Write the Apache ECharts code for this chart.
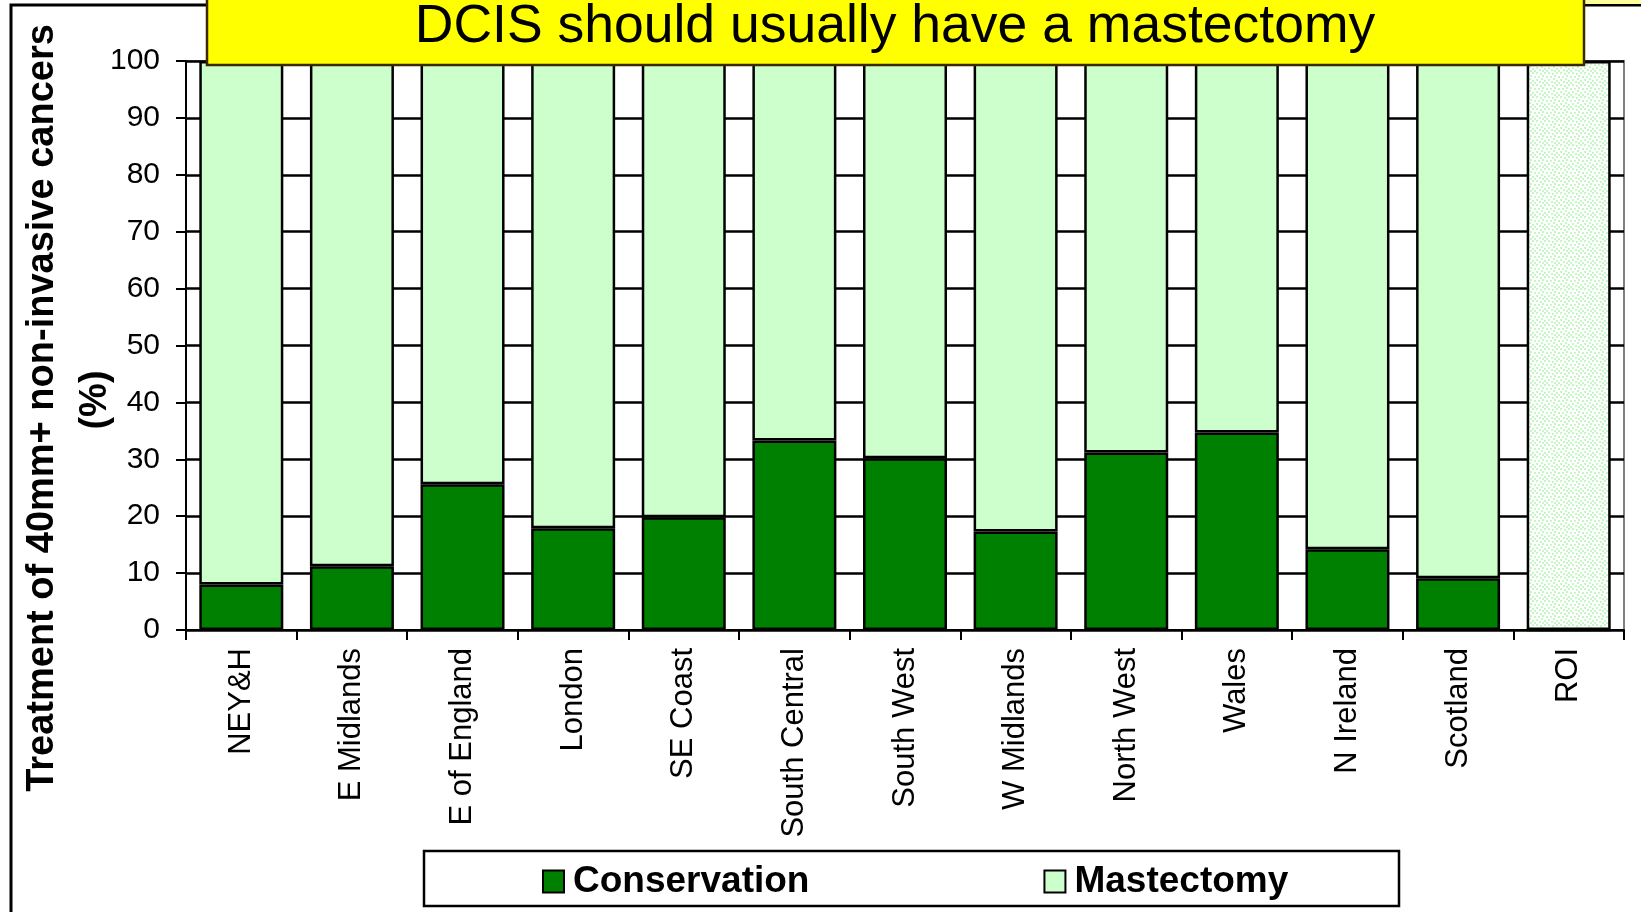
<!DOCTYPE html>
<html>
<head>
<meta charset="utf-8">
<script src="https://cdn.jsdelivr.net/npm/echarts@6/dist/echarts.min.js"></script>
<style>
  html, body { margin: 0; padding: 0; background: #fff; }
  #chart { width: 1641px; height: 912px; }
</style>
</head>
<body>
<div id="chart"></div>
<script>
// regions along the x axis
const regions = ['NEY&H', 'E Midlands', 'E of England', 'London', 'SE Coast', 'South Central',
  'South West', 'W Midlands', 'North West', 'Wales', 'N Ireland', 'Scotland', 'ROI'];
// % of 40mm+ non-invasive cancers
const conservation = [8.0, 11.2, 25.6, 17.9, 19.8, 33.3, 30.2, 17.3, 31.2, 34.7, 14.2, 9.1, 0];
const mastectomy = [92.0, 88.8, 74.4, 82.1, 80.2, 66.7, 69.8, 82.7, 68.8, 65.3, 85.8, 90.9, 100];
// regions drawn with the dotted fill
const dottedRegions = ['ROI'];
const yTicks = { min: 0, max: 100, step: 10 };

const FONT = '"Liberation Sans", Arial, sans-serif';

// dotted fill like the original ROI bar
function makeDots() {
  const c = document.createElement('canvas');
  c.width = 12; c.height = 12;
  const g = c.getContext('2d');
  g.fillStyle = '#ffffff';
  g.fillRect(0, 0, 12, 12);
  g.fillStyle = '#c4f7c4';
  const pts = [[0, 0], [4, 1], [8, 0], [2, 4], [6, 3], [10, 4], [0, 7], [5, 6], [8, 8], [3, 9], [10, 10], [6, 10]];
  pts.forEach(p => g.fillRect(p[0], p[1], 2, 2));
  return c;
}
const dots = makeDots();

const myChart = echarts.init(document.getElementById('chart'));

const options = {
  backgroundColor: '#ffffff',
  animation: false,
  textStyle: { fontFamily: FONT, color: '#000' },
  grid: {
    left: 186, top: 61, right: 17, bottom: 282,
    show: true, borderColor: '#808080', borderWidth: 2, backgroundColor: 'transparent'
  },
  legend: {
    data: ['Conservation', 'Mastectomy'],
    left: 537, top: 858,
    icon: 'rect',
    itemWidth: 21, itemHeight: 22,
    itemGap: 234,
    textStyle: { fontSize: 37, fontWeight: 'bold', fontFamily: FONT, color: '#000', padding: [0, 0, 0, 4] }
  },
  xAxis: {
    type: 'category',
    data: regions,
    axisLine: { lineStyle: { color: '#000', width: 2 } },
    axisTick: { show: true, length: 10, lineStyle: { color: '#000', width: 2 } },
    axisLabel: { rotate: 90, fontSize: 31, color: '#000', margin: 18, interval: 0 }
  },
  yAxis: {
    type: 'value',
    min: yTicks.min, max: yTicks.max, interval: yTicks.step,
    axisLine: { show: true, lineStyle: { color: '#000', width: 2 } },
    axisTick: { show: true, length: 10, lineStyle: { color: '#000', width: 2 } },
    axisLabel: { fontSize: 30, color: '#000', margin: 26 },
    splitLine: { show: true, lineStyle: { color: '#000', width: 2.5 } }
  },
  series: [
    {
      name: 'Conservation',
      type: 'bar',
      stack: 'total',
      barWidth: 84,
      data: conservation,
      itemStyle: { color: '#008000', borderColor: '#000', borderWidth: 2.5 }
    },
    {
      name: 'Mastectomy',
      type: 'bar',
      stack: 'total',
      barWidth: 84,
      data: mastectomy.map((v, i) => dottedRegions.includes(regions[i])
        ? { value: v, itemStyle: { color: { image: dots, repeat: 'repeat' } } }
        : v),
      itemStyle: { color: '#ccffcc', borderColor: '#000', borderWidth: 2.5 }
    }
  ],
  graphic: [
    // outer frame
    { type: 'rect', shape: { x: 11, y: 5, width: 1700, height: 1000 },
      style: { fill: 'none', stroke: '#000', lineWidth: 3 }, z: 0 },
    { type: 'rect', shape: { x: 1585, y: 0, width: 56, height: 4 },
      style: { fill: '#ffff99' }, z: 0 },
    // title banner
    { type: 'rect', shape: { x: 207, y: -3, width: 1377, height: 68 },
      style: { fill: '#ffff00', stroke: '#3a2a00', lineWidth: 2.5 }, z: 100 },
    { type: 'text', x: 895, y: 27, z: 101,
      style: { text: 'DCIS should usually have a mastectomy', fontSize: 53.5, fontFamily: FONT,
        fill: '#000', align: 'center', verticalAlign: 'middle' } },
    // y axis title
    { type: 'text', x: 43, y: 408, rotation: Math.PI / 2, z: 100,
      style: { text: 'Treatment of 40mm+ non-invasive cancers', fontSize: 38, fontWeight: 'bold',
        fontFamily: FONT, fill: '#000', align: 'center', verticalAlign: 'middle' } },
    { type: 'text', x: 96, y: 400, rotation: Math.PI / 2, z: 100,
      style: { text: '(%)', fontSize: 38, fontWeight: 'bold',
        fontFamily: FONT, fill: '#000', align: 'center', verticalAlign: 'middle' } },
    // legend frame
    { type: 'rect', shape: { x: 424, y: 851, width: 975, height: 55 },
      style: { fill: 'none', stroke: '#000', lineWidth: 2.5 }, z: 100 }
  ]
};

myChart.setOption(options);
</script>
</body>
</html>
